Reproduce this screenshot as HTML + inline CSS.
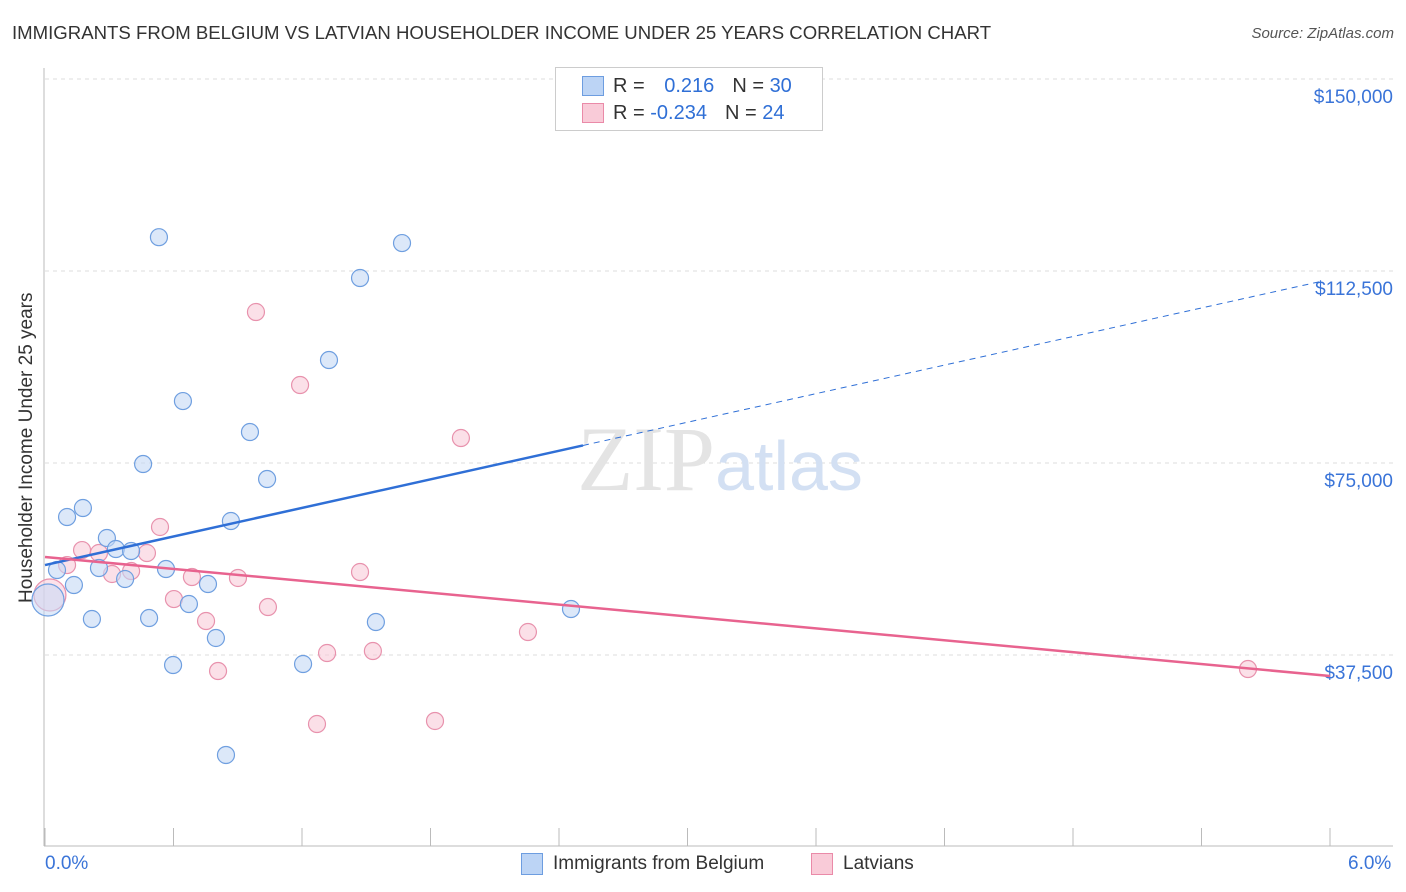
<!DOCTYPE html>
<html><head><meta charset="utf-8"><style>
body{margin:0;background:#fff;font-family:"Liberation Sans",sans-serif;}
#wrap{position:relative;width:1406px;height:892px;overflow:hidden;}
.t{position:absolute;white-space:nowrap;}
</style></head><body>
<div id="wrap">
<div class="t" style="left:12px;top:22px;font-size:18.6px;color:#333;">IMMIGRANTS FROM BELGIUM VS LATVIAN HOUSEHOLDER INCOME UNDER 25 YEARS CORRELATION CHART</div>
<div class="t" style="right:12px;top:25px;font-size:15px;color:#555;font-style:italic;">Source: ZipAtlas.com</div>
<div class="t" style="left:-113px;top:452px;transform:rotate(-90deg);font-size:19px;color:#333;width:280px;text-align:center;">Householder Income Under 25 years</div>
<svg id="svg" width="1406" height="892" style="position:absolute;left:0;top:0"></svg>
<div style="position:absolute;left:555px;top:67px;width:266px;height:62px;border:1px solid #ccc;background:#fff;">
 <div style="position:absolute;left:26px;top:8px;width:20px;height:18px;background:#bcd4f5;border:1px solid #6d9de0;"></div>
 <div class="t" style="left:57px;top:7px;font-size:20px;color:#333;">R = <span style="color:#2f6fd6;margin-left:14px">0.216</span><span style="margin-left:18px">N = </span><span style="color:#2f6fd6">30</span></div>
 <div style="position:absolute;left:26px;top:35px;width:20px;height:18px;background:#f9cbd8;border:1px solid #ea8aa8;"></div>
 <div class="t" style="left:57px;top:34px;font-size:20px;color:#333;">R = <span style="color:#2f6fd6">-0.234</span><span style="margin-left:18px">N = </span><span style="color:#2f6fd6">24</span></div>
</div>
<div style="position:absolute;left:521px;top:853px;width:20px;height:20px;background:#bcd4f5;border:1px solid #6d9de0;"></div>
<div class="t" style="left:553px;top:853px;font-size:19px;color:#333;">Immigrants from Belgium</div>
<div style="position:absolute;left:811px;top:853px;width:20px;height:20px;background:#f9cbd8;border:1px solid #ea8aa8;"></div>
<div class="t" style="left:843px;top:853px;font-size:19px;color:#333;">Latvians</div>
<div class="t" style="left:45px;top:853px;font-size:19px;color:#3a74d8;">0.0%</div>
<div class="t" style="left:1348px;top:853px;font-size:19px;color:#3a74d8;">6.0%</div>
</div>
<script>
const yTicks=[150000,112500,75000,37500];
const yTickLabels=["$150,000","$112,500","$75,000","$37,500"];
const blueX=[0.532,1.667,1.471,1.326,0.644,0.957,0.458,1.037,0.177,0.103,0.868,0.289,0.331,0.402,0.056,0.252,0.565,0.374,0.135,0.761,0.672,0.219,0.486,1.545,2.456,0.798,0.598,1.205,0.845,0.014];
const blueY=[119100,117960,111130,95110,87100,81050,74800,71870,66210,64450,63670,60350,58200,57810,54100,54490,54290,52340,51170,51360,47460,44530,44720,43940,46480,40820,35540,35740,17970,48240];
const pinkX=[0.985,1.191,1.942,0.537,0.173,0.252,0.476,0.103,0.402,0.313,0.686,0.901,1.471,0.602,1.041,0.752,2.255,1.317,1.531,0.808,1.270,1.821,5.617,0.023];
const pinkY=[104490,90230,79880,62500,58000,57420,57420,55070,53900,53320,52730,52540,53710,48430,46870,44140,41990,37890,38280,34370,24020,24610,34760,49220];
const blueTrend=[55070,110860];
const pinkTrend=[56640,33400];
const blueSolidEnd=2.512;
const X=v=>45+v/6*1285, Y=v=>847-v/37500*192;
const svg=document.getElementById('svg'),NS='http://www.w3.org/2000/svg';
function mk(t,a){const e=document.createElementNS(NS,t);for(const k in a)e.setAttribute(k,a[k]);svg.appendChild(e);return e;}
yTicks.forEach((v,i)=>{
 const g=mk('line',{x1:45,x2:1393,y1:Y(v),y2:Y(v),stroke:'#ddd','stroke-dasharray':'4,4'});
 
 
 const t=mk('text',{x:1393,y:Y(v)+24,'text-anchor':'end','font-size':19,fill:'#3a74d8','font-family':'Liberation Sans, sans-serif'});
 t.textContent=yTickLabels[i];
 
 
});
const ax=mk('line',{x1:44,x2:44,y1:68,y2:846,stroke:'#bbb'});


const bx=mk('line',{x1:44,x2:1393,y1:846,y2:846,stroke:'#bbb'});


for(let i=0;i<=10;i++){const tk=mk('line',{x1:X(i*0.6),x2:X(i*0.6),y1:828,y2:846,stroke:'#bbb'});
 
 }
const wm=mk('text',{x:720,y:490,'text-anchor':'middle','font-size':92,'font-family':'Liberation Serif, serif',fill:'#e4e4e4'});
wm.innerHTML='ZIP<tspan fill="#d3e0f3" font-family="Liberation Sans, sans-serif" font-size="70">atlas</tspan>';


function pts(xs,ys,fill,stroke,name){xs.forEach((x,i)=>{const big=i===xs.length-1;
 const c=mk('circle',{cx:X(x),cy:Y(ys[i]),r:big?16:8.5,fill:fill,'fill-opacity':big?0.55:0.6,stroke:stroke,'stroke-width':1.2});
 
 });}
pts(pinkX,pinkY,'#f9cbd8','#e892ad','latvians-point');
pts(blueX,blueY,'#c4d8f5','#6f9fe0','belgium-point');
const bm=blueTrend[0]+(blueTrend[1]-blueTrend[0])*blueSolidEnd/6;
const bl=mk('line',{x1:X(0),y1:Y(blueTrend[0]),x2:X(blueSolidEnd),y2:Y(bm),stroke:'#2f6fd6','stroke-width':2.5});


const bd=mk('line',{x1:X(blueSolidEnd),y1:Y(bm),x2:X(5.95),y2:Y(blueTrend[0]+(blueTrend[1]-blueTrend[0])*5.95/6),stroke:'#2f6fd6','stroke-width':1,'stroke-dasharray':'6,5'});


const pl=mk('line',{x1:X(0),y1:Y(pinkTrend[0]),x2:X(6),y2:Y(pinkTrend[1]),stroke:'#e8638f','stroke-width':2.5});


</script>
</body></html>
